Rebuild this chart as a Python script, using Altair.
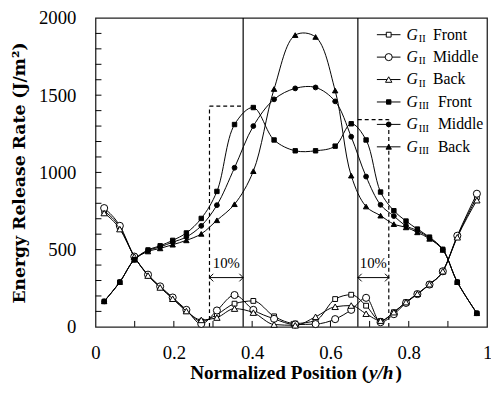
import altair as alt
import pandas as pd

# ---------------- data ----------------
x_pos = [0.022, 0.062, 0.099, 0.134, 0.165, 0.197, 0.232, 0.270, 0.310, 0.355,
         0.403, 0.456, 0.510, 0.562, 0.612, 0.653, 0.691, 0.728, 0.762, 0.793,
         0.822, 0.853, 0.887, 0.924, 0.974]

gii_front   = [750, 645, 455, 335, 258, 185, 105, 35, 80, 150, 168, 68, 22, 40, 180,
               208, 137, 38, 95, 160, 214, 276, 360, 585, 840]
gii_middle  = [769, 654, 455, 338, 262, 190, 110, 19, 106, 206, 110, 52, 15, 18, 50,
               110, 188, 30, 82, 155, 212, 274, 360, 590, 862]
gii_back    = [737, 633, 455, 332, 255, 182, 102, 45, 60, 118, 92, 15, 10, 65, 130,
               138, 85, 40, 95, 160, 214, 276, 360, 580, 820]
giii_front  = [165, 290, 435, 498, 525, 560, 608, 702, 877, 1310, 1420, 1210, 1140, 1140,
               1170, 1315, 1210, 873, 752, 685, 633, 581, 502, 290, 88]
giii_middle = [165, 290, 435, 494, 518, 548, 582, 654, 788, 1030, 1300, 1473, 1544, 1550,
               1460, 1231, 973, 790, 717, 654, 623, 575, 500, 290, 88]
giii_back   = [165, 290, 435, 488, 508, 532, 560, 602, 690, 794, 1008, 1540, 1889, 1877,
               1530, 979, 779, 720, 665, 644, 612, 570, 498, 290, 88]

series_subs  = ["II", "II", "II", "III", "III", "III"]
series_words = ["Front", "Middle", "Back", "Front", "Middle", "Back"]
series_vals  = [gii_front, gii_middle, gii_back, giii_front, giii_middle, giii_back]

# reference lines / zones
solid_x = [0.377, 0.67]
box_left = [0.291, 0.377]
box_left_top = 1429
box_right = [0.67, 0.749]
box_right_top = 1342
arrow_level = 319
pct_label_level = 415
pct_label = "10%"

x_label_vals = [0, 0.2, 0.4, 0.6, 0.8, 1]
y_label_vals = [0, 500, 1000, 1500, 2000]
x_minor = [0.1, 0.2, 0.3, 0.4, 0.5, 0.6, 0.7, 0.8, 0.9]
y_minor = [100, 200, 300, 400, 500, 600, 700, 800, 900, 1000,
           1100, 1200, 1300, 1400, 1500, 1600, 1700, 1800, 1900]

# ---------------- styling ----------------
SERIF = "Liberation Serif"
W, H = 398, 314
styles = [  # shape, filled, size, interpolation
    ("square", False, 24, "monotone"),
    ("circle", False, 52, "monotone"),
    ("triangle-up", False, 42, "monotone"),
    ("square", True, 20, "catmull-rom"),
    ("circle", True, 24, "catmull-rom"),
    ("triangle-up", True, 30, "catmull-rom"),
]

xscale = alt.Scale(domain=[0, 1], nice=False, zero=False)
yscale = alt.Scale(domain=[0, 2000], nice=False)

x_axis = alt.Axis(values=x_label_vals, format="~g", title=None, ticks=False, tickSize=0,
                  domain=False, grid=False, labelFont=SERIF, labelFontSize=19,
                  labelColor="black", labelPadding=17, labelFlush=False)
y_axis = alt.Axis(values=y_label_vals, format="d", title="Energy Release Rate (J/m²)",
                  ticks=False, tickSize=0, domain=False, grid=False, labelFont=SERIF,
                  labelFontSize=19, labelColor="black", labelPadding=20,
                  titleFont="DejaVu Serif", titleFontWeight="bold", titleFontSize=17.5,
                  titleColor="black", titlePadding=10)


def X(f="x"):
    return alt.X(f + ":Q", scale=xscale, axis=x_axis)


def Y(f="v"):
    return alt.Y(f + ":Q", scale=yscale, axis=y_axis)


layers = []

# inward ticks
xt = pd.DataFrame({"x": x_minor})
layers.append(alt.Chart(xt).mark_rule(color="black", strokeWidth=1).encode(
    x=X(), y=alt.value(H), y2=alt.value(H - 6)))
yt = pd.DataFrame({"v": y_minor})
layers.append(alt.Chart(yt).mark_rule(color="black", strokeWidth=1).encode(
    y=Y(), x=alt.value(0), x2=alt.value(6)))

# solid vertical lines
sv = pd.DataFrame({"x": solid_x, "v": [0, 0], "v2": [2000, 2000]})
layers.append(alt.Chart(sv).mark_rule(color="black", strokeWidth=1.2).encode(
    x=X(), y=Y(), y2="v2:Q"))

# dashed boxes
dash = pd.DataFrame({
    "x":  [box_left[0], box_left[0], box_right[1], box_right[0]],
    "x2": [box_left[0], box_left[1], box_right[1], box_right[1]],
    "v":  [0, box_left_top, 0, box_right_top],
    "v2": [box_left_top, box_left_top, box_right_top, box_right_top],
})
layers.append(alt.Chart(dash).mark_rule(color="black", strokeWidth=1.2, strokeDash=[4, 3]).encode(
    x=X(), x2="x2:Q", y=Y(), y2="v2:Q"))

# double arrows
arr = pd.DataFrame({"x": [box_left[0], box_right[0]], "x2": [box_left[1], box_right[1]],
                    "v": [arrow_level, arrow_level]})
layers.append(alt.Chart(arr).mark_rule(color="black", strokeWidth=1).encode(
    x=X(), x2="x2:Q", y=Y()))
heads_l = pd.DataFrame({"x": [box_left[0], box_right[0]], "v": [arrow_level] * 2})
heads_r = pd.DataFrame({"x": [box_left[1], box_right[1]], "v": [arrow_level] * 2})
layers.append(alt.Chart(heads_l).mark_point(shape="M1,-1L0,0L1,1", filled=False, stroke="black",
                                             strokeWidth=1, size=60, opacity=1).encode(
    x=X(), y=Y()))
layers.append(alt.Chart(heads_r).mark_point(shape="M-1,-1L0,0L-1,1", filled=False, stroke="black",
                                             strokeWidth=1, size=60, opacity=1).encode(
    x=X(), y=Y()))
pct = pd.DataFrame({"x": [(box_left[0] + box_left[1]) / 2, (box_right[0] + box_right[1]) / 2],
                    "v": [pct_label_level] * 2, "t": [pct_label] * 2})
layers.append(alt.Chart(pct).mark_text(font=SERIF, fontSize=15, color="black",
                                       baseline="middle").encode(
    x=X(), y=Y(), text="t:N"))

# series
for vals, (shape, filled, size, interp) in zip(series_vals, styles):
    df = pd.DataFrame({"x": x_pos, "v": vals})
    layers.append(alt.Chart(df).mark_line(color="black", strokeWidth=1,
                                          interpolate=interp).encode(x=X(), y=Y()))
    layers.append(alt.Chart(df).mark_point(shape=shape, filled=True,
                                           fill="black" if filled else "white",
                                           stroke="black", strokeWidth=1, size=size,
                                           opacity=1).encode(x=X(), y=Y()))

# custom legend (G with roman-numeral subscript)
one = pd.DataFrame({"a": [0]})
for i, (sub, word, (shape, filled, size, _)) in enumerate(zip(series_subs, series_words, styles)):
    yy = 17 + 22.8 * i
    layers.append(alt.Chart(one).mark_rule(color="black", strokeWidth=1).encode(
        x=alt.value(286), x2=alt.value(310), y=alt.value(yy)))
    layers.append(alt.Chart(one).mark_point(shape=shape, filled=True,
                                            fill="black" if filled else "white",
                                            stroke="black", strokeWidth=1, size=size,
                                            opacity=1).encode(x=alt.value(298), y=alt.value(yy)))
    layers.append(alt.Chart(one).mark_text(text="G", font=SERIF, fontStyle="italic", fontSize=16,
                                           color="black", align="left",
                                           baseline="alphabetic").encode(
        x=alt.value(316), y=alt.value(yy + 5)))
    layers.append(alt.Chart(one).mark_text(text=sub, font=SERIF, fontSize=10.5, color="black",
                                           align="left", baseline="alphabetic").encode(
        x=alt.value(328.5), y=alt.value(yy + 7.5)))
    layers.append(alt.Chart(one).mark_text(text=word, font=SERIF, fontSize=16, color="black",
                                           align="left", baseline="alphabetic").encode(
        x=alt.value(343 if sub == "II" else 348), y=alt.value(yy + 5)))

# x-axis title with italic (y/h)
TY = H + 53
layers.append(alt.Chart(one).mark_text(text="Normalized Position (", font=SERIF, fontWeight="bold",
                                       fontSize=19.5, color="black", align="right",
                                       baseline="alphabetic").encode(
    x=alt.value(277), y=alt.value(TY)))
layers.append(alt.Chart(one).mark_text(text="y/h", font=SERIF, fontWeight="bold",
                                       fontStyle="italic", fontSize=19.5, color="black",
                                       align="left", baseline="alphabetic").encode(
    x=alt.value(278), y=alt.value(TY)))
layers.append(alt.Chart(one).mark_text(text=")", font=SERIF, fontWeight="bold",
                                       fontSize=19.5, color="black", align="left",
                                       baseline="alphabetic").encode(
    x=alt.value(305), y=alt.value(TY)))

chart = alt.layer(*layers).properties(
    width=W, height=H,
    autosize=alt.AutoSizeParams(type="none"),
    padding={"left": 89, "top": 7, "right": 4, "bottom": 57},
    background="white",
).configure_view(stroke="#222", strokeWidth=1.3)

chart.save("out.html", embed_options={"renderer": "svg", "actions": False})
